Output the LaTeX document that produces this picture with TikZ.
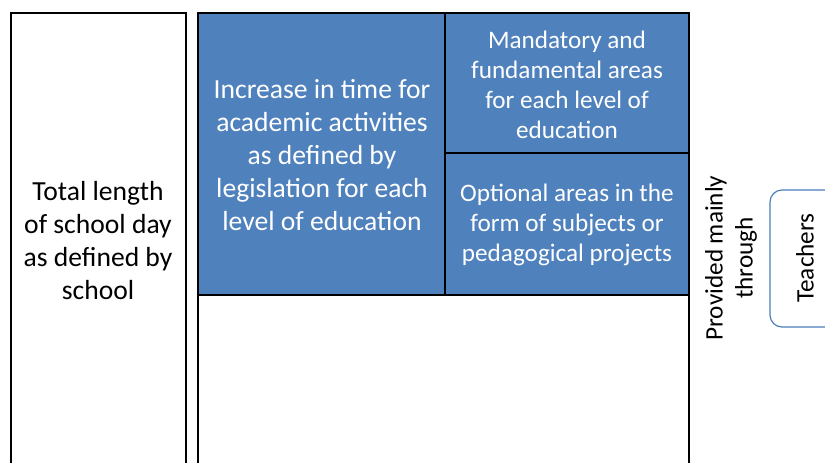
\documentclass[tikz,border=0pt]{standalone}
\usepackage{fontspec}
\setmainfont{Carlito}
\definecolor{areablue}{HTML}{4F81BD}
\definecolor{edgeblue}{HTML}{4A7EBB}

\tikzset{
  box/.style={draw=black, line width=0.8pt},
  bluebox/.style={box, fill=areablue},
  bigtext/.style={align=center, font=\fontsize{13.8}{16.5}\selectfont},
  smalltext/.style={align=center, font=\fontsize{12.6}{15}\selectfont},
  teacherbox/.style={draw=edgeblue, line width=0.6pt, rounded corners=6pt}
}

\begin{document}
\begin{tikzpicture}[x=0.5pt,y=-0.5pt]
	\clip (0,0) rectangle (825,462);
	% school day column
	\draw[box] (11,13) rectangle (186,480);
	\node[bigtext] (total) at (98,241) {Total length\\of school day\\as defined by\\school};
	% academic time
	\draw[box] (198,13) rectangle (689,480);
	\draw[bluebox] (198,13) rectangle (445,295);
	\draw[bluebox] (445,13) rectangle (689,153);
	\draw[bluebox] (445,153) rectangle (689,295);
	\node[bigtext,text=white] (increase) at (322,155) {Increase in time for\\academic activities\\as defined by\\legislation for each\\level of education};
	\node[smalltext,text=white] (mandatory) at (567,85) {Mandatory and\\fundamental areas\\for each level of\\education};
	\node[smalltext,text=white] (optional) at (567,225) {Optional areas in the\\form of subjects or\\pedagogical projects};
	% provided through
	\node[smalltext,rotate=90] (provided) at (731,258) {Provided mainly\\through};
	\draw[teacherbox] (770,190) rectangle (870,327);
	\node[smalltext,rotate=90] (teachers) at (805,258) {Teachers};
\end{tikzpicture}
\end{document}
